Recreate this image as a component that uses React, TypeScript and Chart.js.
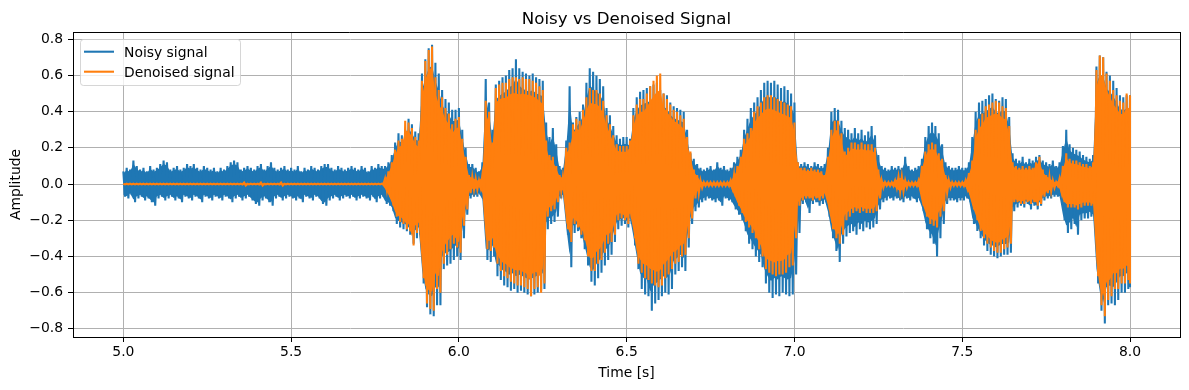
import React, { useEffect, useRef } from "react";
import { Chart, registerables } from "chart.js";

Chart.register(...registerables);

// Sampling grid of the envelope readings (seconds)
const T_START = 5.0;
const T_STEP = 0.01;

// Upper / lower envelope of the noisy signal, one value per 0.01 s from 5.00 to 8.00
const NOISY_UPPER = [
  0.07, 0.09, 0.08, 0.13, 0.10, 0.08, 0.09, 0.07, 0.10, 0.08,
  0.09, 0.11, 0.13, 0.12, 0.08, 0.09, 0.10, 0.08, 0.09, 0.11,
  0.10, 0.11, 0.09, 0.08, 0.10, 0.09, 0.08, 0.09, 0.07, 0.09,
  0.08, 0.10, 0.12, 0.13, 0.12, 0.08, 0.09, 0.10, 0.09, 0.08,
  0.10, 0.11, 0.08, 0.10, 0.12, 0.09, 0.08, 0.09, 0.10, 0.08,
  0.09, 0.08, 0.10, 0.07, 0.09, 0.08, 0.10, 0.09, 0.08, 0.10,
  0.11, 0.11, 0.09, 0.08, 0.10, 0.09, 0.08, 0.09, 0.10, 0.09,
  0.08, 0.10, 0.09, 0.07, 0.10, 0.09, 0.11, 0.10, 0.10, 0.12,
  0.16, 0.23, 0.28, 0.27, 0.30, 0.36, 0.33, 0.29, 0.28, 0.61,
  0.69, 0.75, 0.77, 0.67, 0.61, 0.52, 0.47, 0.45, 0.41, 0.41,
  0.42, 0.30, 0.20, 0.11, 0.11, 0.09, 0.07, 0.12, 0.58, 0.45,
  0.30, 0.55, 0.57, 0.59, 0.60, 0.63, 0.64, 0.69, 0.64, 0.62,
  0.61, 0.60, 0.61, 0.59, 0.58, 0.57, 0.34, 0.26, 0.31, 0.22,
  0.10, 0.09, 0.24, 0.54, 0.34, 0.37, 0.40, 0.44, 0.56, 0.64,
  0.62, 0.60, 0.58, 0.54, 0.42, 0.38, 0.32, 0.27, 0.25, 0.26,
  0.26, 0.25, 0.42, 0.48, 0.51, 0.52, 0.53, 0.54, 0.55, 0.56,
  0.52, 0.50, 0.49, 0.45, 0.43, 0.42, 0.41, 0.40, 0.30, 0.17,
  0.14, 0.11, 0.09, 0.08, 0.09, 0.10, 0.08, 0.12, 0.09, 0.10,
  0.08, 0.09, 0.12, 0.15, 0.19, 0.30, 0.36, 0.42, 0.45, 0.48,
  0.52, 0.56, 0.57, 0.56, 0.57, 0.55, 0.53, 0.54, 0.52, 0.50,
  0.45, 0.12, 0.11, 0.12, 0.11, 0.10, 0.12, 0.11, 0.10, 0.11,
  0.20, 0.40, 0.42, 0.41, 0.35, 0.31, 0.30, 0.28, 0.31, 0.28,
  0.30, 0.27, 0.29, 0.32, 0.27, 0.16, 0.10, 0.09, 0.08, 0.10,
  0.09, 0.10, 0.09, 0.15, 0.10, 0.08, 0.09, 0.10, 0.14, 0.26,
  0.32, 0.34, 0.32, 0.28, 0.22, 0.12, 0.10, 0.09, 0.09, 0.10,
  0.09, 0.09, 0.12, 0.26, 0.40, 0.45, 0.46, 0.47, 0.49, 0.50,
  0.47, 0.46, 0.48, 0.47, 0.37, 0.17, 0.14, 0.13, 0.15, 0.12,
  0.14, 0.13, 0.15, 0.16, 0.13, 0.12, 0.11, 0.13, 0.10, 0.12,
  0.21, 0.30, 0.22, 0.20, 0.19, 0.18, 0.16, 0.15, 0.14, 0.16,
  0.65, 0.71, 0.70, 0.62, 0.60, 0.57, 0.53, 0.49, 0.48, 0.49,
  0.49,
];

const NOISY_LOWER = [
  -0.07, -0.08, -0.06, -0.10, -0.08, -0.07, -0.09, -0.08, -0.10, -0.12,
  -0.08, -0.07, -0.09, -0.08, -0.07, -0.09, -0.08, -0.10, -0.07, -0.08,
  -0.09, -0.07, -0.08, -0.10, -0.07, -0.08, -0.09, -0.07, -0.08, -0.09,
  -0.07, -0.08, -0.10, -0.08, -0.07, -0.09, -0.08, -0.07, -0.09, -0.11,
  -0.12, -0.09, -0.08, -0.10, -0.12, -0.08, -0.07, -0.09, -0.08, -0.07,
  -0.08, -0.09, -0.08, -0.10, -0.07, -0.08, -0.09, -0.07, -0.08, -0.11,
  -0.12, -0.09, -0.08, -0.07, -0.09, -0.08, -0.07, -0.08, -0.07, -0.09,
  -0.08, -0.07, -0.08, -0.09, -0.07, -0.10, -0.08, -0.07, -0.11, -0.12,
  -0.15, -0.22, -0.24, -0.25, -0.26, -0.28, -0.33, -0.30, -0.28, -0.55,
  -0.68, -0.72, -0.73, -0.67, -0.67, -0.47, -0.45, -0.44, -0.42, -0.40,
  -0.42, -0.30, -0.17, -0.08, -0.07, -0.07, -0.06, -0.10, -0.42, -0.43,
  -0.40, -0.51, -0.53, -0.56, -0.57, -0.59, -0.58, -0.60, -0.59, -0.60,
  -0.61, -0.62, -0.61, -0.60, -0.59, -0.58, -0.25, -0.22, -0.21, -0.18,
  -0.08, -0.07, -0.28, -0.46, -0.27, -0.26, -0.30, -0.36, -0.45, -0.54,
  -0.56, -0.52, -0.49, -0.45, -0.42, -0.39, -0.32, -0.25, -0.23, -0.22,
  -0.24, -0.22, -0.34, -0.47, -0.58, -0.61, -0.62, -0.70, -0.66, -0.64,
  -0.62, -0.60, -0.61, -0.58, -0.50, -0.48, -0.46, -0.48, -0.35, -0.22,
  -0.15, -0.13, -0.10, -0.09, -0.08, -0.09, -0.10, -0.09, -0.12, -0.08,
  -0.09, -0.10, -0.14, -0.17, -0.20, -0.26, -0.33, -0.36, -0.40, -0.43,
  -0.46, -0.55, -0.60, -0.63, -0.61, -0.62, -0.60, -0.61, -0.62, -0.61,
  -0.50, -0.27, -0.11, -0.10, -0.16, -0.11, -0.10, -0.12, -0.11, -0.10,
  -0.18, -0.30, -0.37, -0.43, -0.33, -0.29, -0.27, -0.26, -0.28, -0.25,
  -0.26, -0.24, -0.25, -0.24, -0.22, -0.14, -0.10, -0.09, -0.08, -0.09,
  -0.08, -0.09, -0.10, -0.08, -0.09, -0.08, -0.10, -0.09, -0.15, -0.25,
  -0.30, -0.33, -0.40, -0.30, -0.22, -0.11, -0.09, -0.09, -0.10, -0.09,
  -0.09, -0.08, -0.10, -0.22, -0.26, -0.30, -0.34, -0.37, -0.39, -0.40,
  -0.41, -0.40, -0.39, -0.39, -0.38, -0.15, -0.13, -0.12, -0.13, -0.11,
  -0.14, -0.12, -0.14, -0.12, -0.09, -0.08, -0.08, -0.07, -0.07, -0.08,
  -0.20, -0.27, -0.25, -0.22, -0.28, -0.20, -0.19, -0.19, -0.18, -0.20,
  -0.55, -0.70, -0.77, -0.67, -0.66, -0.67, -0.64, -0.60, -0.60, -0.58,
  -0.57,
];

// Upper / lower envelope of the denoised signal, same grid
const DENOISED_UPPER = [
  0.002, 0.002, 0.002, 0.002, 0.002, 0.002, 0.002, 0.002, 0.002, 0.002,
  0.002, 0.002, 0.002, 0.002, 0.002, 0.002, 0.002, 0.002, 0.002, 0.002,
  0.002, 0.002, 0.002, 0.002, 0.002, 0.002, 0.002, 0.002, 0.002, 0.002,
  0.002, 0.002, 0.002, 0.002, 0.002, 0.002, 0.008, 0.002, 0.002, 0.002,
  0.002, 0.008, 0.002, 0.002, 0.002, 0.002, 0.002, 0.008, 0.002, 0.002,
  0.002, 0.002, 0.002, 0.002, 0.002, 0.002, 0.002, 0.002, 0.002, 0.002,
  0.002, 0.002, 0.002, 0.002, 0.002, 0.002, 0.002, 0.002, 0.002, 0.002,
  0.002, 0.002, 0.002, 0.002, 0.002, 0.002, 0.002, 0.002, 0.03, 0.07,
  0.12, 0.19, 0.24, 0.25, 0.35, 0.34, 0.31, 0.26, 0.24, 0.57,
  0.68, 0.74, 0.76, 0.59, 0.52, 0.48, 0.42, 0.39, 0.33, 0.36,
  0.37, 0.25, 0.15, 0.05, 0.04, 0.03, 0.02, 0.05, 0.46, 0.40,
  0.23, 0.53, 0.55, 0.56, 0.56, 0.58, 0.59, 0.59, 0.58, 0.59,
  0.58, 0.58, 0.57, 0.56, 0.54, 0.52, 0.24, 0.16, 0.15, 0.10,
  0.05, 0.04, 0.20, 0.23, 0.33, 0.36, 0.35, 0.41, 0.48, 0.53,
  0.52, 0.52, 0.50, 0.46, 0.38, 0.33, 0.27, 0.22, 0.21, 0.21,
  0.21, 0.24, 0.38, 0.44, 0.47, 0.47, 0.50, 0.54, 0.57, 0.60,
  0.61, 0.50, 0.47, 0.44, 0.41, 0.40, 0.38, 0.36, 0.26, 0.18,
  0.08, 0.05, 0.02, 0.01, 0.01, 0.01, 0.01, 0.01, 0.01, 0.01,
  0.01, 0.02, 0.05, 0.10, 0.15, 0.25, 0.28, 0.31, 0.40, 0.43,
  0.45, 0.48, 0.49, 0.49, 0.48, 0.47, 0.46, 0.45, 0.44, 0.43,
  0.34, 0.12, 0.09, 0.09, 0.08, 0.09, 0.08, 0.08, 0.07, 0.05,
  0.15, 0.30, 0.35, 0.35, 0.28, 0.18, 0.20, 0.23, 0.23, 0.22,
  0.23, 0.22, 0.22, 0.22, 0.20, 0.08, 0.02, 0.01, 0.01, 0.01,
  0.02, 0.04, 0.04, 0.02, 0.01, 0.01, 0.01, 0.02, 0.10, 0.18,
  0.22, 0.23, 0.22, 0.17, 0.14, 0.05, 0.02, 0.01, 0.01, 0.01,
  0.01, 0.02, 0.06, 0.13, 0.30, 0.36, 0.39, 0.43, 0.44, 0.45,
  0.46, 0.45, 0.43, 0.42, 0.32, 0.12, 0.10, 0.09, 0.10, 0.09,
  0.10, 0.09, 0.12, 0.15, 0.08, 0.05, 0.04, 0.02, 0.01, 0.03,
  0.10, 0.17, 0.14, 0.13, 0.13, 0.12, 0.11, 0.11, 0.10, 0.12,
  0.63, 0.71, 0.70, 0.61, 0.57, 0.52, 0.49, 0.46, 0.45, 0.50,
  0.49,
];

const DENOISED_LOWER = [
  -0.002, -0.002, -0.002, -0.002, -0.002, -0.002, -0.002, -0.002, -0.002, -0.002,
  -0.002, -0.002, -0.002, -0.002, -0.002, -0.002, -0.002, -0.002, -0.002, -0.002,
  -0.002, -0.002, -0.002, -0.002, -0.002, -0.002, -0.002, -0.002, -0.002, -0.002,
  -0.002, -0.002, -0.002, -0.002, -0.002, -0.002, -0.008, -0.002, -0.002, -0.002,
  -0.002, -0.008, -0.002, -0.002, -0.002, -0.002, -0.002, -0.008, -0.002, -0.002,
  -0.002, -0.002, -0.002, -0.002, -0.002, -0.002, -0.002, -0.002, -0.002, -0.002,
  -0.002, -0.002, -0.002, -0.002, -0.002, -0.002, -0.002, -0.002, -0.002, -0.002,
  -0.002, -0.002, -0.002, -0.002, -0.002, -0.002, -0.002, -0.002, -0.03, -0.07,
  -0.12, -0.18, -0.21, -0.22, -0.25, -0.26, -0.34, -0.27, -0.25, -0.52,
  -0.66, -0.69, -0.70, -0.58, -0.60, -0.44, -0.39, -0.36, -0.33, -0.35,
  -0.38, -0.23, -0.14, -0.05, -0.03, -0.03, -0.02, -0.06, -0.36, -0.37,
  -0.35, -0.44, -0.48, -0.51, -0.52, -0.54, -0.55, -0.56, -0.56, -0.57,
  -0.58, -0.62, -0.58, -0.57, -0.60, -0.55, -0.18, -0.15, -0.14, -0.10,
  -0.04, -0.04, -0.25, -0.32, -0.22, -0.24, -0.28, -0.31, -0.40, -0.48,
  -0.48, -0.44, -0.42, -0.38, -0.33, -0.32, -0.28, -0.20, -0.19, -0.20,
  -0.22, -0.19, -0.30, -0.44, -0.49, -0.52, -0.53, -0.55, -0.56, -0.57,
  -0.56, -0.52, -0.50, -0.47, -0.44, -0.43, -0.40, -0.39, -0.30, -0.19,
  -0.08, -0.05, -0.02, -0.01, -0.01, -0.01, -0.01, -0.01, -0.01, -0.01,
  -0.01, -0.02, -0.07, -0.12, -0.16, -0.21, -0.24, -0.27, -0.30, -0.36,
  -0.40, -0.47, -0.49, -0.50, -0.51, -0.50, -0.50, -0.49, -0.46, -0.45,
  -0.30, -0.12, -0.09, -0.08, -0.08, -0.09, -0.08, -0.09, -0.08, -0.06,
  -0.14, -0.25, -0.30, -0.33, -0.28, -0.20, -0.18, -0.16, -0.15, -0.16,
  -0.15, -0.16, -0.16, -0.16, -0.15, -0.08, -0.02, -0.01, -0.01, -0.01,
  -0.02, -0.04, -0.04, -0.02, -0.01, -0.01, -0.01, -0.02, -0.12, -0.18,
  -0.22, -0.23, -0.24, -0.18, -0.15, -0.05, -0.02, -0.01, -0.01, -0.01,
  -0.01, -0.02, -0.06, -0.14, -0.20, -0.26, -0.30, -0.33, -0.35, -0.37,
  -0.38, -0.38, -0.36, -0.35, -0.33, -0.10, -0.10, -0.11, -0.11, -0.10,
  -0.11, -0.10, -0.12, -0.11, -0.07, -0.05, -0.04, -0.02, -0.01, -0.03,
  -0.10, -0.13, -0.13, -0.13, -0.14, -0.13, -0.12, -0.12, -0.12, -0.13,
  -0.51, -0.67, -0.73, -0.64, -0.62, -0.58, -0.58, -0.55, -0.55, -0.53,
  -0.55,
];

const X_TICKS = [5.0, 5.5, 6.0, 6.5, 7.0, 7.5, 8.0];
const Y_TICKS = [-0.8, -0.6, -0.4, -0.2, 0.0, 0.2, 0.4, 0.6, 0.8];

const TITLE = "Noisy vs Denoised Signal";
const X_LABEL = "Time [s]";
const Y_LABEL = "Amplitude";
const SERIES_NAMES = ["Noisy signal", "Denoised signal"];

const BLUE = "#1f77b4";
const ORANGE = "#ff7f0e";
const FONT = '"DejaVu Sans", "Liberation Sans", sans-serif';
const LINE_W = 2.08;
// share of each envelope drawn as a solid body; the rest shows as the spiky trace
const CORE_FRACTION = 0.85;

const fmt = (v: number) => {
  const s = Math.abs(v).toFixed(1);
  return v < -1e-9 ? "\u2212" + s : s;
};

const decorPlugin = {
  id: "decor",
  afterDraw(chart: any) {
    const { ctx, chartArea } = chart;
    const { left, right, top, bottom } = chartArea;
    const cx = (left + right) / 2;
    ctx.save();
    // top and right spines
    ctx.strokeStyle = "#000";
    ctx.lineWidth = 1;
    ctx.beginPath();
    ctx.moveTo(left, Math.round(top) + 0.5);
    ctx.lineTo(right, Math.round(top) + 0.5);
    ctx.moveTo(Math.round(right) + 0.5, top);
    ctx.lineTo(Math.round(right) + 0.5, bottom);
    ctx.stroke();

    // title
    ctx.fillStyle = "#000";
    ctx.font = `16.67px ${FONT}`;
    ctx.textAlign = "center";
    ctx.textBaseline = "alphabetic";
    ctx.fillText(TITLE, cx, 24);

    // x label
    ctx.font = `13.9px ${FONT}`;
    ctx.fillText(X_LABEL, cx, 376.5);

    // y label
    ctx.save();
    ctx.translate(20, (top + bottom) / 2);
    ctx.rotate(-Math.PI / 2);
    ctx.fillText(Y_LABEL, 0, 0);
    ctx.restore();

    // legend
    const lx = 80.5, ly = 39.5, lw = 160, lh = 46, r = 3;
    ctx.beginPath();
    ctx.moveTo(lx + r, ly);
    ctx.lineTo(lx + lw - r, ly);
    ctx.arcTo(lx + lw, ly, lx + lw, ly + r, r);
    ctx.lineTo(lx + lw, ly + lh - r);
    ctx.arcTo(lx + lw, ly + lh, lx + lw - r, ly + lh, r);
    ctx.lineTo(lx + r, ly + lh);
    ctx.arcTo(lx, ly + lh, lx, ly + lh - r, r);
    ctx.lineTo(lx, ly + r);
    ctx.arcTo(lx, ly, lx + r, ly, r);
    ctx.closePath();
    ctx.fillStyle = "rgba(255,255,255,0.8)";
    ctx.fill();
    ctx.strokeStyle = "rgba(204,204,204,0.8)";
    ctx.lineWidth = 1;
    ctx.stroke();

    const colors = [BLUE, ORANGE];
    const rows = [51.7, 71.7];
    ctx.textAlign = "left";
    ctx.font = `13.9px ${FONT}`;
    SERIES_NAMES.forEach((name, i) => {
      ctx.strokeStyle = colors[i];
      ctx.lineWidth = LINE_W;
      ctx.beginPath();
      ctx.moveTo(84, rows[i]);
      ctx.lineTo(114, rows[i]);
      ctx.stroke();
      ctx.fillStyle = "#000";
      ctx.fillText(name, 124, rows[i] + 5);
    });
    ctx.restore();
  },
};

export default function App() {
  const ref = useRef<HTMLCanvasElement | null>(null);

  useEffect(() => {
    if (!ref.current) return;
    const tAt = (i: number) => T_START + i * T_STEP;
    // Interleave the upper and lower envelope readings into one oscillating trace per series
    const trace = (upper: number[], lower: number[]) => {
      const out: { x: number; y: number }[] = [];
      upper.forEach((u, i) => {
        out.push({ x: tAt(i), y: u });
        out.push({ x: i < upper.length - 1 ? tAt(i) + T_STEP / 2 : tAt(i), y: lower[i] });
      });
      return out;
    };
    const body = (arr: number[]) => arr.map((v, i) => ({ x: tAt(i), y: v * CORE_FRACTION }));
    const line = { pointRadius: 0, borderWidth: LINE_W, tension: 0, fill: false };
    const core = { pointRadius: 0, borderWidth: 0, tension: 0, borderColor: "rgba(0,0,0,0)" };

    const chart = new Chart(ref.current, {
      type: "line",
      data: {
        datasets: [
          { ...line, label: SERIES_NAMES[1], data: trace(DENOISED_UPPER, DENOISED_LOWER), borderColor: ORANGE, backgroundColor: ORANGE },
          { ...core, label: "d-up", data: body(DENOISED_UPPER), backgroundColor: ORANGE, fill: "+1" },
          { ...core, label: "d-lo", data: body(DENOISED_LOWER), backgroundColor: ORANGE, fill: false },
          { ...line, label: SERIES_NAMES[0], data: trace(NOISY_UPPER, NOISY_LOWER), borderColor: BLUE, backgroundColor: BLUE },
          { ...core, label: "n-up", data: body(NOISY_UPPER), backgroundColor: BLUE, fill: "+1" },
          { ...core, label: "n-lo", data: body(NOISY_LOWER), backgroundColor: BLUE, fill: false },
        ] as any,
      },
      options: {
        animation: false,
        responsive: false,
        devicePixelRatio: 1,
        layout: { padding: { left: 0, right: 9, top: 32, bottom: 0 } },
        plugins: {
          legend: { display: false },
          tooltip: { enabled: false },
          title: { display: false },
          filler: { propagate: false },
        },
        scales: {
          x: {
            type: "linear",
            min: 4.85,
            max: 8.149,
            afterBuildTicks: (s: any) => {
              s.ticks = X_TICKS.map((v) => ({ value: v }));
            },
            afterFit: (s: any) => {
              s.height = 53;
            },
            ticks: {
              callback: (v: any) => Number(v).toFixed(1),
              color: "#000",
              font: { family: FONT, size: 13.9 },
              padding: 2,
              maxRotation: 0,
              autoSkip: false,
            },
            grid: { color: "#b0b0b0", lineWidth: 1, tickLength: 5, tickColor: "#000", tickWidth: 1 },
            border: { color: "#000", width: 1 },
          },
          y: {
            type: "linear",
            min: -0.845,
            max: 0.84,
            afterBuildTicks: (s: any) => {
              s.ticks = Y_TICKS.map((v) => ({ value: v }));
            },
            afterFit: (s: any) => {
              s.width = 73;
            },
            ticks: {
              callback: (v: any) => fmt(Number(v)),
              color: "#000",
              font: { family: FONT, size: 13.9 },
              padding: 5,
              autoSkip: false,
            },
            grid: { color: "#b0b0b0", lineWidth: 1, tickLength: 5, tickColor: "#000", tickWidth: 1 },
            border: { color: "#000", width: 1 },
          },
        },
      } as any,
      plugins: [decorPlugin],
    });
    return () => chart.destroy();
  }, []);

  return (
    <div style={{ position: "fixed", left: 0, top: 0, width: 1189, height: 390, background: "#fff" }}>
      <canvas ref={ref} width={1189} height={390} style={{ width: 1189, height: 390, display: "block" }} />
    </div>
  );
}
